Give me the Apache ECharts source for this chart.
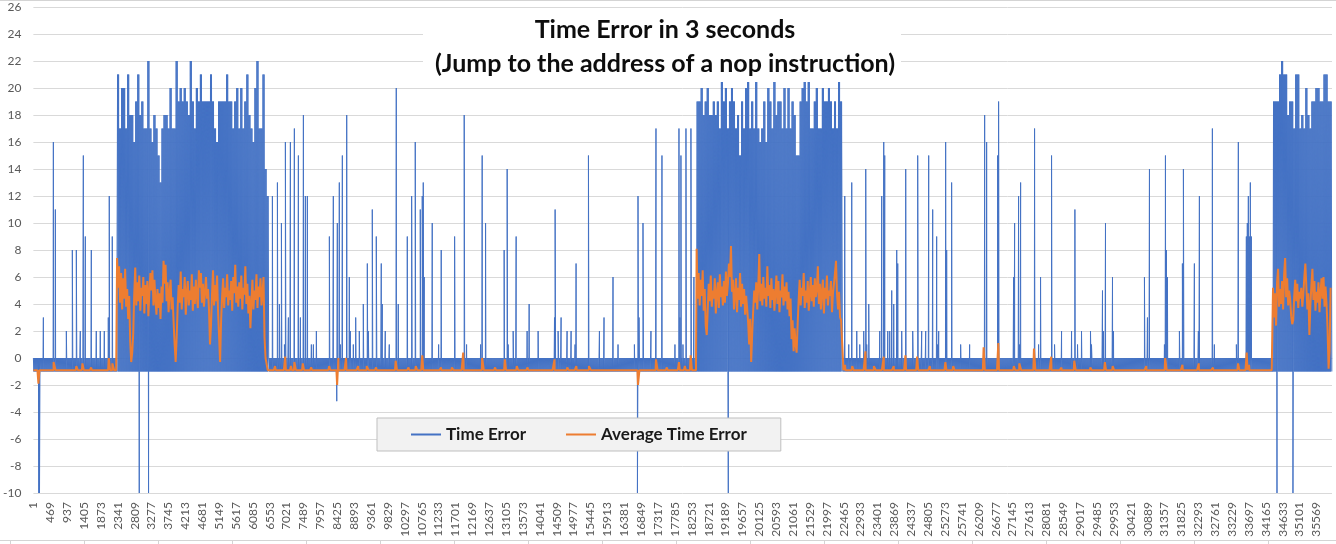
<!DOCTYPE html>
<html><head><meta charset="utf-8">
<script src="https://cdn.jsdelivr.net/npm/echarts@6/dist/echarts.min.js"></script>
<style>html,body{margin:0;padding:0;background:#fff}#c{width:1336px;height:544px}</style>
</head><body><div id="c"></div>
<script>
// ---------------- data ----------------
const N = 36000;                       // number of samples (category count)
const titleLines = ['Time Error in 3 seconds', '(Jump to the address of a nop instruction)'];
const seriesNames = ['Time Error', 'Average Time Error'];
const yMin = -10, yMax = 26, yStep = 2;
const labelEvery = 468;                // x labels: 1, 469, 937, ...

// quiet "band": Time Error alternates between these two values
const bandHigh = 0, bandLow = -1;
const avgBase = -0.9;                  // average in quiet stretches

// dense stretches: start sample, block tops (one per 56 samples), averages (one per 28 samples)
const BLOCK = 56, AVG_STEP = 28;
const denseStart = [2320, 18386, 34364];
const r1Top = [21,17,20,20,17,21,18,18,16,19, 21,18,19,17,17,22,17,16,18,17, 15,13,17,18,18,17,20,17,17,22,
  19,20,19,20,19,18,22,19,17,20, 19,21,19,19,19,19,21,19,17,16, 19,19,19,19,21,19,19,17,19,20,
  17,20,17,19,21,18,17,16,20,22, 17,17,21,14,12];
const r2Top = [19,19,20,18,19,20,18,18,19,18, 19,17,21,19,20,17,19,20,19,17, 18,15,19,17,20,22,17,19,17,22,
  17,16,17,19,16,20,19,17,21,18, 19,19,17,20,17,20,17,19,18,15, 15,19,20,22,19,22,17,17,19,20,
  17,17,20,19,19,20,19,17,19,17, 21,19];
const r3Top = [19,19,19,21,22,21,21,18,19,19, 17,21,21,17,18,17,20,18,17,19, 19,20,20,19,19,21,21,19,19];
const r1Avg = [7.4,5.2,6.8,4.1,6.3,3.6,5.9,4.4,6.6,3.8, 5.1,2.9,4.6,1.2,-0.3,0.4,1.8,4.8,6.7,3.9,
  5.6,4.2,6.1,3.5,5.2,4.6,6.0,3.3,5.4,4.0, 5.7,3.1,4.9,6.3,5.0,6.5,3.9,5.8,4.3,3.2,
  5.1,3.7,4.8,2.9,5.3,4.1,7.2,5.5,6.9,4.2, 5.6,3.4,4.9,5.8,3.6,4.5,2.6,1.0,-0.3,1.5,
  3.8,5.4,4.1,6.4,3.6,5.1,4.5,6.0,3.2,4.8, 5.7,3.9,5.0,4.3,6.2,3.5,5.3,4.0,5.8,4.6,
  3.7,6.5,5.2,6.3,4.1,5.5,3.8,4.9,6.0,4.4, 5.1,3.6,1.0,2.4,4.7,6.5,3.9,5.4,4.2,6.1,
  3.4,1.6,-0.3,2.8,4.6,5.9,3.7,5.2,4.5,6.2, 3.9,5.0,4.3,5.7,3.5,6.0,4.8,6.9,4.1,5.3,
  3.8,5.6,4.4,6.1,3.6,5.2,4.7,6.8,4.0,5.5, 3.3,4.6,2.2,4.1,5.8,3.6,5.0,4.3,6.2,3.7,
  5.3,4.5,5.9,3.9,4.8,6.0,1.5,0.0];
const r2Avg = [8.1,4.4,6.3,3.9,5.8,4.6,6.5,3.5,5.1,2.4, 1.7,3.6,5.5,4.2,6.1,3.8,5.0,4.4,5.9,3.3,
  4.8,5.6,3.7,6.2,4.5,5.3,3.9,5.7,4.1,6.4, 4.6,5.5,7.0,6.0,8.3,4.9,5.8,3.6,4.7,5.9,
  3.4,5.2,4.3,6.3,3.8,5.5,4.0,5.1,3.2,4.6, 3.7,2.6,1.0,2.9,-0.3,1.8,3.5,5.0,4.1,5.6,
  3.6,5.3,7.7,4.2,5.5,3.9,6.0,4.4,5.2,3.8, 6.8,4.6,5.4,3.7,5.9,4.3,5.1,3.5,4.8,6.1,
  4.0,5.7,3.4,5.0,4.5,6.2,3.9,5.3,4.2,5.6, 3.6,4.9,3.1,4.4,1.4,2.8,0.5,2.2,1.0,0.4,
  2.5,4.3,5.8,3.9,5.2,4.6,6.3,3.7,5.0,4.1, 5.7,3.5,4.8,6.0,4.2,5.4,3.8,5.9,4.5,5.1,
  6.8,4.0,5.5,3.6,4.9,5.8,3.3,5.2,4.4,6.1, 3.9,5.0,4.6,5.7,3.4,4.8,5.5,6.3,7.2,4.7,
  3.6,4.9,3.0,2.8];
const r3Avg = [5.2,3.0,4.8,2.4,5.6,6.6,3.8,5.1,4.0,5.7, 3.6,6.2,7.4,4.5,5.9,3.9,5.0,4.3,3.1,2.5,
  2.8,4.6,5.8,4.2,5.5,3.7,4.9,4.4,5.2,3.8, 4.7,6.0,7.0,5.3,3.6,4.8,1.7,3.9,5.4,6.6,
  4.3,5.7,3.5,4.9,4.1,5.6,3.4,4.8,5.9,4.4, 6.0,3.8,5.3,4.0,2.1,-0.8,0.5,5.2];

// isolated Time Error spikes in quiet stretches: [sample, value]
const spikes = [[277,3],[554,16],[609,11],[914,2],[1080,8],[1191,8],[1301,2],[1385,15],[1440,9],[1606,8],
  [1744,2],[1855,2],[1966,2],[2077,3],[2104,12],[2187,9],
  [6626,12],[6765,13],[6820,4],[6876,10],[6959,1],[6986,16],[7069,3],[7125,16],[7235,17],[7346,15],
  [7402,3],[7485,18],[7540,12],[7595,12],[7706,1],[7762,1],[7845,2],[8205,9],[8315,12],[8426,10],
  [8481,13],[8509,1],[8565,15],[8686,18],[8758,6],[8786,2],[8869,1],[8935,3],[9035,2],[9146,4],
  [9257,7],[9284,2],[9395,11],[9506,9],[9644,7],[9672,4],[9755,2],[9866,1],[10060,20],[10115,4],
  [10365,9],[10486,12],[10586,16],[10725,11],[10780,12],[10808,13],[10835,6],[11057,10],[11234,1],
  [11306,8],[11677,9],[11943,18],[12009,1],[12397,1],[12441,15],[12535,10],[13050,8],[13134,14],
  [13161,1],[13300,2],[13383,9],[13687,2],[13743,4],[13992,2],[14446,3],[14463,11],[14546,2],
  [14629,3],[14795,2],[14906,2],[15016,1],[15044,7],[15387,15],[15692,2],[15819,3],[16068,6],
  [16207,1],[16661,1],[16761,12],[16789,3],[16899,10],[17120,2],[17259,17],[17425,15],[17785,1],
  [17896,17],[17923,3],[17951,15],[18007,1],[18090,17],[18228,17],[18311,6],
  [22492,12],[22603,1],[22686,13],[22825,2],[22908,1],[23018,2],[23074,14],[23101,1],[23157,4],
  [23462,2],[23517,12],[23573,16],[23600,15],[23684,2],[23739,2],[23794,5],[23850,4],[23933,8],
  [23961,7],[24071,2],[24182,14],[24376,2],[24514,15],[24625,2],[24736,2],[24819,15],[24930,11],
  [25040,9],[25068,1],[25096,2],[25289,16],[25317,8],[25455,13],[25705,1],[25954,1],[26370,18],
  [26425,16],[26730,15],[26757,19],[27173,6],[27201,10],[27311,12],[27339,1],[27367,13],[27754,17],
  [27865,1],[27920,6],[28225,15],[28308,1],[28502,2],[28779,2],[28872,11],[28945,1],[29055,2],
  [29304,2],[29332,1],[29637,5],[29664,2],[29720,10],[29914,6],[29942,2],[30800,6],[30883,3],
  [30939,14],[31354,1],[31382,15],[31410,8],[31437,6],[31769,2],[31852,7],[31880,14],[32184,7],
  [32295,2],[32323,12],[32683,17],[32738,1],[33348,1],[33403,16],[33625,9],[33652,10],[33680,12],
  [33708,9],[33735,13],[33763,9]];
// downward Time Error spikes: [sample, value]
const dips = [[150,-10],[170,-10],[2935,-10],[3193,-10],[8410,-3.2],[16745,-10],[19264,-10],[34474,-10],[34917,-10]];
// Average Time Error bumps in quiet stretches: [sample, value]
const avgBumps = [[140,-1.9],[560,-0.3],[1190,-0.6],[1360,-0.4],[1600,-0.7],[2090,0.0],[2190,-0.4],
  [6700,-0.6],[6980,0.1],[7140,-0.6],[7235,-0.3],[7468,-0.4],[7700,-0.7],[8200,-0.6],[8420,-2.0],
  [8455,0.0],[8667,0.0],[9000,-0.6],[9240,-0.6],[9500,-0.7],[10043,-0.2],[10400,-0.7],[10600,-0.6],
  [10780,0.2],[11300,-0.7],[11600,-0.7],[11915,0.4],[12441,0.0],[12800,-0.7],[13070,-0.1],[13400,-0.6],
  [13700,-0.7],[14446,-0.1],[14800,-0.7],[15050,-0.6],[15400,-0.6],[16761,-2.0],[17259,-0.1],
  [17560,-0.7],[17896,-0.3],[18060,-0.6],[18220,0.2],
  [22500,-0.5],[22700,-0.6],[23066,0.5],[23300,-0.6],[23573,0.1],[23850,-0.6],[24174,0.2],[24498,0.1],
  [24850,-0.6],[25281,-0.3],[25500,-0.6],[26342,0.8],[26749,1.1],[27180,-0.6],[27330,-0.4],[27737,0.7],
  [28216,0.1],[28500,-0.7],[28854,-0.2],[29300,-0.7],[29703,-0.3],[29920,-0.6],[30850,-0.6],[31374,0.0],
  [31852,-0.5],[32305,-0.4],[32700,-0.7],[33395,-0.4],[33635,0.4],[33700,-0.5]];

// ---------------- build series from the arrays ----------------
const tops = [r1Top, r2Top, r3Top];
const avgs = [r1Avg, r2Avg, r3Avg];
const categories = Array.from({length: N}, (_, i) => String(i + 1));
const denseBlue = denseStart.map((s, r) => [s, s + tops[r].length * BLOCK]);
const denseAvg = denseStart.map((s, r) => [s, s + avgs[r].length * AVG_STEP]);
const inside = (ranges, i) => ranges.some(([a, b]) => i >= a && i < b);

const blue = [];
for (let i = 0, k = 0; i < N; i += 14, k++) {
  if (!inside(denseBlue, i)) blue.push([i, k % 2 ? bandLow : bandHigh]);
}
tops.forEach((arr, r) => arr.forEach((t, b) => {
  const s = denseStart[r] + b * BLOCK;
  blue.push([s, bandLow], [s + 14, t], [s + 28, bandLow], [s + 42, t]);
}));
spikes.forEach(p => blue.push(p));
dips.forEach(p => blue.push(p));
const blueData = blue.filter(p => p[0] < N).sort((a, b) => a[0] - b[0]);

const orange = [];
for (let i = 0; i < N; i += 56) if (!inside(denseAvg, i)) orange.push([i, avgBase]);
avgs.forEach((arr, r) => arr.forEach((v, k) => orange.push([denseStart[r] + k * AVG_STEP, v])));
avgBumps.forEach(p => orange.push(p));
const orangeData = orange.filter(p => p[0] < N).sort((a, b) => a[0] - b[0]);

// ---------------- chart ----------------
const FONT = 'Lato';
const chart = echarts.init(document.getElementById('c'), null, {renderer: 'canvas'});
const gridLines = [];
gridLines.push({type: 'line', shape: {x1: 0, y1: 0.5, x2: 1336, y2: 0.5}, style: {stroke: '#d4d4d4', lineWidth: 1}, silent: true});
gridLines.push({type: 'line', shape: {x1: 0, y1: 540.5, x2: 1336, y2: 540.5}, style: {stroke: '#d4d4d4', lineWidth: 1}, silent: true});
for (let k = 0; k < 19; k++) {
  const x = Math.round(10 + 74 * k) + 0.5;
  gridLines.push({type: 'line', shape: {x1: x, y1: 540, x2: x, y2: 544}, style: {stroke: '#d4d4d4', lineWidth: 1}, silent: true});
}
chart.setOption({
  animation: false,
  backgroundColor: '#ffffff',
  title: {
    text: titleLines.join('\n'),
    left: 660, top: 8, textAlign: 'center', z: 101,
    textStyle: {fontFamily: FONT, fontWeight: 'bold', fontSize: 25, lineHeight: 34, color: '#0d0d0d'}
  },
  graphic: [
    {type: 'rect', shape: {x: 423, y: 8, width: 478, height: 74}, style: {fill: '#ffffff'}, z: 100, silent: true},
    ...gridLines
  ],
  legend: {
    left: 377, top: 418,
    backgroundColor: '#f2f2f2', borderColor: '#bfbfbf', borderWidth: 1,
    padding: [8, 34], itemGap: 40, itemWidth: 30, itemHeight: 2,
    textStyle: {fontFamily: FONT, fontSize: 17, fontWeight: 'bold', color: '#1a1a1a'},
    data: [{name: seriesNames[0], icon: 'rect'}, {name: seriesNames[1], icon: 'rect'}]
  },
  grid: {left: 33, right: 4, top: 7, bottom: 51, containLabel: false},
  xAxis: {
    type: 'category', data: categories, boundaryGap: false,
    axisLine: {lineStyle: {color: '#d9d9d9'}},
    axisTick: {show: false},
    axisLabel: {interval: labelEvery - 1, rotate: 90, margin: 9, fontFamily: FONT, fontSize: 12, color: '#595959'},
    splitLine: {show: false}
  },
  yAxis: {
    type: 'value', min: yMin, max: yMax, interval: yStep,
    axisLine: {show: false}, axisTick: {show: false},
    axisLabel: {margin: 12, fontFamily: FONT, fontSize: 12, color: '#595959'},
    splitLine: {lineStyle: {color: '#d9d9d9', width: 1}}
  },
  series: [
    {name: seriesNames[0], type: 'line', data: blueData, symbol: 'none', z: 2,
     itemStyle: {color: '#4472C4'}, lineStyle: {color: '#4472C4', width: 1}},
    {name: seriesNames[1], type: 'line', data: orangeData, symbol: 'none', z: 3,
     itemStyle: {color: '#ED7D31'}, lineStyle: {color: '#ED7D31', width: 2}}
  ]
});
</script></body></html>
